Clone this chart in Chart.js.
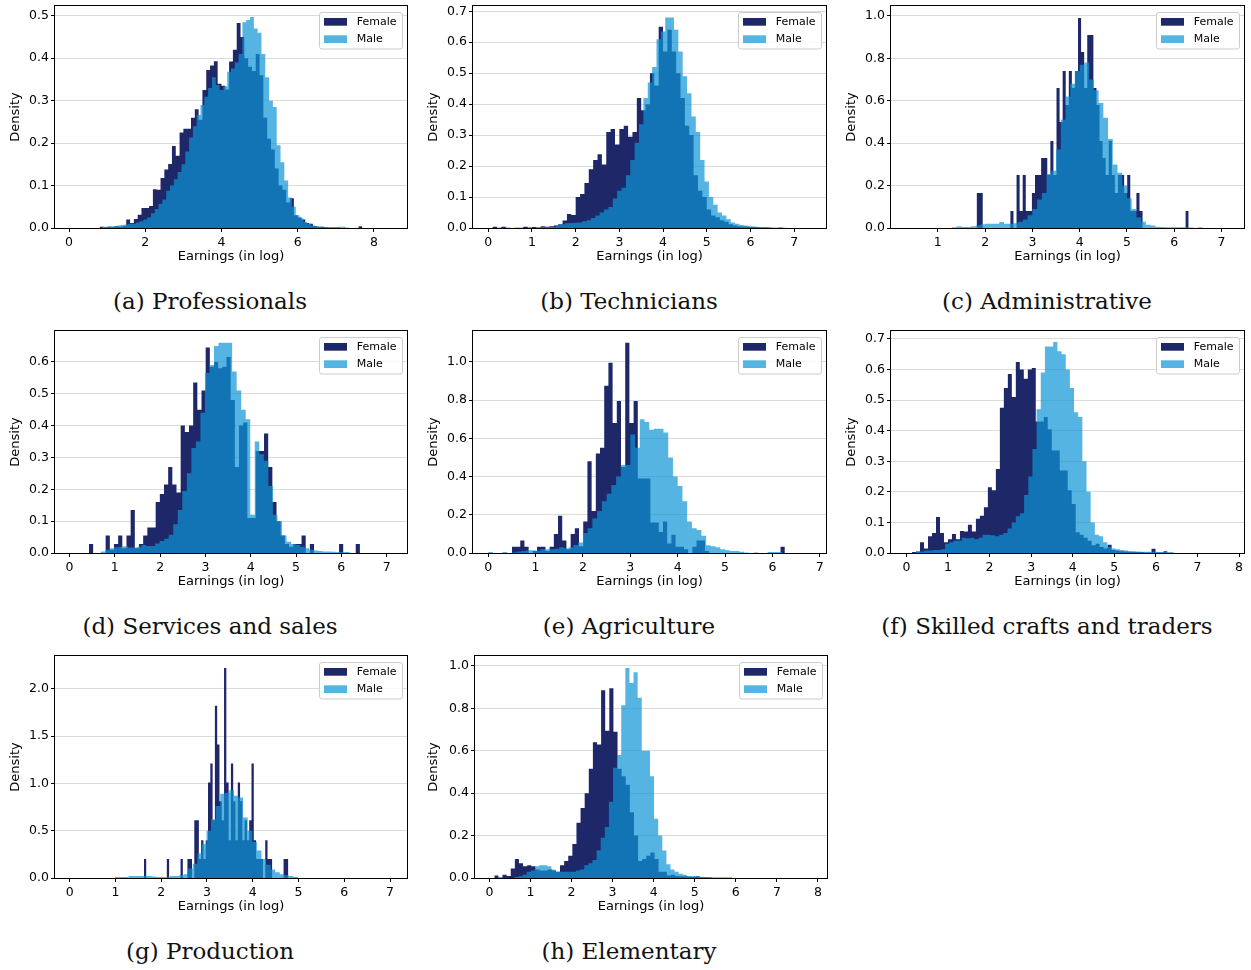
<!DOCTYPE html>
<html>
<head>
<meta charset="utf-8">
<title>Earnings by occupation and gender</title>
<script src="https://cdn.jsdelivr.net/npm/chart.js@4.4.0/dist/chart.umd.min.js"></script>
<style>
  body { margin: 0; background: #fff; }
  #page { position: relative; width: 1251px; height: 970px; overflow: hidden; }
  canvas { position: absolute; }
  .caption { position: absolute; width: 400px; text-align: center; font-family: "DejaVu Serif", serif; font-size: 23px; line-height: 24px; color: #111; }
</style>
</head>
<body>
<div id="page">
  <canvas id="professionals" width="415" height="270" style="left:0px;top:0px"></canvas>
  <canvas id="technicians" width="415" height="270" style="left:418px;top:0px"></canvas>
  <canvas id="administrative" width="415" height="270" style="left:836px;top:0px"></canvas>
  <canvas id="services" width="415" height="270" style="left:0px;top:325px"></canvas>
  <canvas id="agriculture" width="415" height="270" style="left:418px;top:325px"></canvas>
  <canvas id="crafts" width="415" height="270" style="left:836px;top:325px"></canvas>
  <canvas id="production" width="415" height="270" style="left:0px;top:650px"></canvas>
  <canvas id="elementary" width="415" height="270" style="left:418px;top:650px"></canvas>

  <div class="caption" style="left:10px;top:289px">(a) Professionals</div>
  <div class="caption" style="left:429px;top:289px">(b) Technicians</div>
  <div class="caption" style="left:847px;top:289px">(c) Administrative</div>
  <div class="caption" style="left:10px;top:614px">(d) Services and sales</div>
  <div class="caption" style="left:429px;top:614px">(e) Agriculture</div>
  <div class="caption" style="left:847px;top:614px">(f) Skilled crafts and traders</div>
  <div class="caption" style="left:10px;top:939px">(g) Production</div>
  <div class="caption" style="left:429px;top:939px">(h) Elementary</div>
</div>

<script>
// histogram densities, one value per bin; bins given as [first edge, bin width]

// (a) professionals
const profFemaleBins = [0.8, 0.1];
const profFemale = [0.003, 0.002, 0.003, 0.002, 0.004, 0.003, 0.005, 0.020, 0.012, 0.021,
  0.031, 0.047, 0.047, 0.052, 0.091, 0.090, 0.118, 0.138, 0.151, 0.193,
  0.170, 0.225, 0.234, 0.234, 0.260, 0.280, 0.255, 0.325, 0.372, 0.383,
  0.393, 0.340, 0.335, 0.326, 0.392, 0.420, 0.483, 0.450, 0.400, 0.380,
  0.370, 0.410, 0.360, 0.260, 0.210, 0.185, 0.140, 0.100, 0.090, 0.060,
  0.070, 0.030, 0.025, 0.020, 0.012, 0.010, 0.005, 0.003, 0.003, 0.002,
  0.001, 0.001, 0.001, 0, 0, 0, 0, 0, 0.004];
const profMaleBins = [0.85, 0.1];
const profMale = [0.003, 0.003, 0.004, 0.005, 0.006, 0.007, 0.008, 0.010, 0.010, 0.013,
  0.016, 0.020, 0.025, 0.035, 0.045, 0.057, 0.067, 0.088, 0.100, 0.115,
  0.132, 0.150, 0.180, 0.213, 0.240, 0.266, 0.290, 0.309, 0.330, 0.355,
  0.337, 0.325, 0.334, 0.368, 0.376, 0.390, 0.410, 0.485, 0.490, 0.497,
  0.470, 0.460, 0.410, 0.355, 0.300, 0.285, 0.195, 0.155, 0.112, 0.072,
  0.050, 0.030, 0.023, 0.014, 0.010, 0.006, 0.004, 0.003, 0.002, 0.002,
  0.001, 0.001, 0.003, 0.003, 0.001];
const profXTicks = [0, 2, 4, 6, 8];
const profYTicks = [0, 0.1, 0.2, 0.3, 0.4, 0.5];

// (b) technicians
const techFemaleBins = [0.0, 0.1];
const techFemale = [0, 0.004, 0.001, 0.004, 0.001, 0, 0.001, 0.001, 0.004, 0.002,
  0.003, 0.002, 0.006, 0.004, 0.006, 0.008, 0.012, 0.024, 0.045, 0.042,
  0.100, 0.110, 0.145, 0.190, 0.220, 0.238, 0.205, 0.310, 0.320, 0.270,
  0.320, 0.330, 0.295, 0.310, 0.420, 0.380, 0.400, 0.500, 0.460, 0.650,
  0.570, 0.640, 0.570, 0.500, 0.420, 0.330, 0.300, 0.170, 0.120, 0.100,
  0.060, 0.040, 0.035, 0.025, 0.020, 0.012, 0.008, 0.006, 0.005, 0.004,
  0.003, 0.003, 0.002, 0.002, 0.001];
const techMaleBins = [1.15, 0.1];
const techMale = [0.003, 0.003, 0.003, 0.003, 0.010, 0.012, 0.015, 0.016, 0.017, 0.018,
  0.022, 0.025, 0.032, 0.040, 0.050, 0.060, 0.068, 0.095, 0.120, 0.130,
  0.170, 0.220, 0.275, 0.335, 0.420, 0.470, 0.520, 0.610, 0.635, 0.680,
  0.680, 0.640, 0.570, 0.490, 0.435, 0.360, 0.310, 0.220, 0.150, 0.100,
  0.075, 0.050, 0.040, 0.028, 0.018, 0.014, 0.010, 0.008, 0.006, 0.005,
  0.003, 0.003, 0.003, 0.002, 0.002, 0.003, 0.001];
const techXTicks = [0, 1, 2, 3, 4, 5, 6, 7];
const techYTicks = [0, 0.1, 0.2, 0.3, 0.4, 0.5, 0.6, 0.7];

// (c) administrative
const adminFemaleBins = [1.82, 0.065];
const adminFemale = [0.165, 0.165, 0, 0, 0, 0, 0, 0, 0, 0,
  0, 0.08, 0, 0.25, 0.08, 0.25, 0.08, 0.08, 0.165, 0.25,
  0.25, 0.33, 0.33, 0.25, 0.41, 0.25, 0.66, 0.50, 0.74, 0.58,
  0.74, 0.66, 0.74, 0.99, 0.83, 0.66, 0.91, 0.91, 0.66, 0.58,
  0.41, 0.33, 0.25, 0.41, 0.25, 0.165, 0.25, 0.25, 0.165, 0.25,
  0.08, 0.08, 0.165, 0.08, 0, 0, 0, 0, 0, 0,
  0, 0, 0, 0, 0, 0, 0, 0, 0.08];
const adminMaleBins = [1.3, 0.1];
const adminMale = [0.004, 0.008, 0.005, 0.005, 0.008, 0.012, 0.018, 0.020, 0.020, 0.020,
  0.028, 0.020, 0.020, 0.022, 0.030, 0.040, 0.060, 0.090, 0.135, 0.165,
  0.255, 0.270, 0.370, 0.510, 0.620, 0.680, 0.740, 0.770, 0.780, 0.700,
  0.650, 0.590, 0.520, 0.420, 0.300, 0.260, 0.200, 0.140, 0.090, 0.050,
  0.030, 0.015, 0.012, 0.006, 0.005, 0.004, 0.004, 0.004, 0.004, 0.004,
  0.002, 0, 0.004];
const adminXTicks = [1, 2, 3, 4, 5, 6, 7];
const adminYTicks = [0, 0.2, 0.4, 0.6, 0.8, 1.0];

// (d) services and sales
const servFemaleBins = [0.43, 0.092];
const servFemale = [0.028, 0, 0, 0, 0.055, 0.010, 0.028, 0.055, 0.015, 0.055,
  0.135, 0.015, 0.028, 0.055, 0.080, 0.080, 0.160, 0.185, 0.215, 0.270,
  0.215, 0.190, 0.400, 0.380, 0.400, 0.535, 0.450, 0.510, 0.645, 0.585,
  0.600, 0.580, 0.585, 0.615, 0.480, 0.270, 0.400, 0.410, 0.110, 0.110,
  0.320, 0.320, 0.375, 0.270, 0.160, 0.100, 0.055, 0.028, 0.020, 0.028,
  0.028, 0.055, 0, 0.028, 0, 0, 0, 0, 0, 0,
  0.028, 0, 0, 0, 0.028];
const servMaleBins = [0.69, 0.1];
const servMale = [0.005, 0.010, 0.015, 0.018, 0.020, 0.021, 0.017, 0.017, 0.020, 0.025,
  0.022, 0.022, 0.030, 0.038, 0.045, 0.057, 0.090, 0.135, 0.195, 0.250,
  0.330, 0.350, 0.440, 0.565, 0.590, 0.650, 0.660, 0.660, 0.660, 0.570,
  0.510, 0.450, 0.420, 0.120, 0.350, 0.310, 0.290, 0.210, 0.120, 0.100,
  0.055, 0.035, 0.028, 0.025, 0.020, 0.015, 0.010, 0.008, 0.006, 0.005,
  0.005, 0.004, 0.003, 0.003, 0.003];
const servXTicks = [0, 1, 2, 3, 4, 5, 6, 7];
const servYTicks = [0, 0.1, 0.2, 0.3, 0.4, 0.5, 0.6];

// (e) agriculture
const agriFemaleBins = [0.5, 0.0886];
const agriFemale = [0.033, 0.033, 0.065, 0.033, 0, 0.010, 0.033, 0.033, 0.010, 0.033,
  0.100, 0.195, 0.065, 0.020, 0.100, 0.130, 0.035, 0.165, 0.480, 0.220,
  0.520, 0.550, 0.875, 0.995, 0.680, 0.795, 0.450, 1.100, 0.680, 0.795,
  0.390, 0.390, 0.390, 0.160, 0.160, 0.110, 0.165, 0.050, 0.095, 0.033,
  0.033, 0.020, 0, 0.033, 0.065, 0.065, 0.010, 0, 0, 0,
  0, 0, 0, 0, 0, 0, 0, 0, 0, 0,
  0, 0, 0, 0, 0.033, 0];
const agriMaleBins = [0.0, 0.1];
const agriMale = [0.005, 0, 0, 0.005, 0, 0.003, 0.008, 0.010, 0.015, 0.015,
  0.012, 0.020, 0.020, 0.020, 0.022, 0.030, 0.025, 0.030, 0.042, 0.055,
  0.105, 0.130, 0.180, 0.220, 0.270, 0.310, 0.355, 0.400, 0.460, 0.460,
  0.620, 0.550, 0.700, 0.685, 0.645, 0.650, 0.650, 0.630, 0.500, 0.400,
  0.350, 0.270, 0.165, 0.130, 0.120, 0.090, 0.040, 0.035, 0.030, 0.020,
  0.015, 0.010, 0.010, 0.006, 0.003, 0, 0.002, 0, 0, 0.005,
  0.005, 0.005];
const agriXTicks = [0, 1, 2, 3, 4, 5, 6, 7];
const agriYTicks = [0, 0.2, 0.4, 0.6, 0.8, 1.0];

// (f) skilled crafts and traders
const craftFemaleBins = [0.136, 0.096];
const craftFemale = [0.003, 0.005, 0.035, 0.015, 0.055, 0.065, 0.118, 0.065, 0.035, 0.045,
  0.062, 0.045, 0.072, 0.070, 0.092, 0.070, 0.112, 0.122, 0.150, 0.215,
  0.205, 0.275, 0.475, 0.540, 0.585, 0.510, 0.625, 0.600, 0.570, 0.600,
  0.605, 0.430, 0.430, 0.445, 0.405, 0.335, 0.335, 0.270, 0.270, 0.205,
  0.160, 0.068, 0.060, 0.050, 0.040, 0.025, 0.030, 0.020, 0.015, 0.027,
  0.010, 0.008, 0.006, 0.005, 0.004, 0.004, 0.003, 0.003, 0.002, 0.002,
  0.014, 0.002, 0.002, 0.006];
const craftMaleBins = [0.232, 0.1];
const craftMale = [0.005, 0.005, 0.008, 0.008, 0.010, 0.010, 0.012, 0.030, 0.035, 0.040,
  0.040, 0.050, 0.048, 0.050, 0.045, 0.050, 0.060, 0.060, 0.058, 0.055,
  0.060, 0.065, 0.080, 0.100, 0.120, 0.130, 0.190, 0.250, 0.340, 0.470,
  0.590, 0.675, 0.675, 0.690, 0.660, 0.650, 0.600, 0.540, 0.460, 0.445,
  0.300, 0.200, 0.100, 0.060, 0.055, 0.035, 0.020, 0.015, 0.012, 0.010,
  0.008, 0.006, 0.005, 0.005, 0.004, 0.004, 0.004, 0.004, 0.003, 0.003,
  0.003, 0.003];
const craftXTicks = [0, 1, 2, 3, 4, 5, 6, 7, 8];
const craftYTicks = [0, 0.1, 0.2, 0.3, 0.4, 0.5, 0.6, 0.7];

// (g) production
const prodFemaleBins = [1.623, 0.05];
const prodFemale = [0.2, 0, 0, 0, 0, 0, 0, 0, 0, 0,
  0.2, 0, 0, 0, 0, 0, 0.2, 0, 0, 0.2,
  0.2, 0, 0.61, 0.61, 0.2, 0.4, 0.2, 0.4, 1.01, 1.21,
  0.61, 1.82, 1.41, 0.81, 0.61, 2.22, 1.01, 0.4, 1.21, 0.81,
  0.4, 1.01, 0.81, 0.4, 0.61, 0.4, 0.61, 1.21, 0.4, 0.2,
  0.2, 0.2, 0, 0.4, 0.2, 0.2, 0, 0, 0, 0,
  0, 0.2, 0.2, 0];
const prodMaleBins = [0.99, 0.1];
const prodMale = [0.010, 0.010, 0.010, 0.020, 0.020, 0.020, 0.020, 0.020, 0.015, 0.010,
  0.010, 0.010, 0.020, 0.020, 0.030, 0.040, 0.100, 0.150, 0.260, 0.360,
  0.500, 0.620, 0.760, 0.890, 0.900, 0.930, 0.870, 0.850, 0.640, 0.500,
  0.380, 0.290, 0.200, 0.140, 0.090, 0.060, 0.040, 0.030, 0.020, 0.010];
const prodXTicks = [0, 1, 2, 3, 4, 5, 6, 7];
const prodYTicks = [0, 0.5, 1.0, 1.5, 2.0];

// (h) elementary
const elemFemaleBins = [0.12, 0.1];
const elemFemale = [0.012, 0.002, 0.015, 0.010, 0.045, 0.090, 0.070, 0.055, 0.060, 0.055,
  0.040, 0.035, 0.035, 0.040, 0.035, 0.030, 0.060, 0.080, 0.105, 0.160,
  0.260, 0.330, 0.400, 0.515, 0.640, 0.630, 0.885, 0.695, 0.895, 0.690,
  0.515, 0.480, 0.440, 0.310, 0.200, 0.080, 0.090, 0.105, 0.120, 0.090,
  0.030, 0.030, 0.012, 0.015, 0.010, 0.008, 0.008, 0.006, 0.006, 0.008,
  0.003, 0.003, 0.002];
const elemMaleBins = [0.61, 0.1];
const elemMale = [0.005, 0.008, 0.015, 0.030, 0.035, 0.055, 0.060, 0.060, 0.055, 0.040,
  0.030, 0.030, 0.030, 0.030, 0.030, 0.035, 0.040, 0.060, 0.070, 0.085,
  0.130, 0.190, 0.240, 0.360, 0.520, 0.580, 0.815, 0.990, 0.920, 0.970,
  0.850, 0.600, 0.600, 0.480, 0.280, 0.200, 0.130, 0.065, 0.040, 0.030,
  0.020, 0.015, 0.010, 0.008, 0.008, 0.005, 0.005, 0.004, 0.004, 0.004,
  0.004, 0.004, 0.004];
const elemXTicks = [0, 1, 2, 3, 4, 5, 6, 7, 8];
const elemYTicks = [0, 0.2, 0.4, 0.6, 0.8, 1.0];

const FEMALE_COLOR = '#1e2869';
const MALE_COLOR = 'rgba(14, 148, 214, 0.7)';
const axisFont = { family: 'DejaVu Sans', size: 12.5 };
const titleFont = { family: 'DejaVu Sans', size: 13 };

// bins -> points for a stepped, filled line (each point opens a bin)
function binPoints(bins, heights) {
  const [start, width] = bins;
  const pts = heights.map((h, i) => ({ x: start + i * width, y: h }));
  pts.push({ x: start + heights.length * width, y: 0 });
  return pts;
}

// black box around the plot area
const frame = {
  id: 'frame',
  afterDraw(chart) {
    const { ctx, chartArea: a } = chart;
    ctx.save();
    ctx.strokeStyle = '#000';
    ctx.lineWidth = 1;
    ctx.strokeRect(a.left - 0.5, a.top - 0.5, a.right - a.left + 1, a.bottom - a.top + 1);
    ctx.restore();
  }
};

// legend box in the upper right corner of the plot
const legendBox = {
  id: 'legendBox',
  afterDraw(chart) {
    const { ctx, chartArea: a } = chart;
    const x0 = a.right - 88, y0 = a.top + 6;
    ctx.save();
    ctx.beginPath();
    ctx.roundRect(x0 + 0.5, y0 + 0.5, 83, 36.5, 2.5);
    ctx.fillStyle = 'rgba(255,255,255,0.8)';
    ctx.fill();
    ctx.strokeStyle = '#cccccc';
    ctx.lineWidth = 1;
    ctx.stroke();
    ctx.font = '11px "DejaVu Sans"';
    ctx.textBaseline = 'middle';
    chart.data.datasets.forEach((ds, i) => {
      const y = y0 + 6 + i * 17.3;
      ctx.fillStyle = ds.backgroundColor;
      ctx.fillRect(x0 + 5, y, 23, 7.7);
      ctx.fillStyle = '#000';
      ctx.fillText(ds.label, x0 + 37.7, y + 4);
    });
    ctx.restore();
  }
};

function histogram(id, female, male, xMin, xMax, yMax, xTicks, yTicks, digits, plotLeft, plotRight) {
  const canvas = document.getElementById(id);
  return new Chart(canvas, {
    type: 'line',
    data: {
      datasets: [
        { label: 'Female', data: female, order: 1, backgroundColor: FEMALE_COLOR,
          borderColor: 'rgba(0,0,0,0)', borderWidth: 0, pointRadius: 0, fill: 'origin', stepped: true },
        { label: 'Male', data: male, order: 0, backgroundColor: MALE_COLOR,
          borderColor: 'rgba(0,0,0,0)', borderWidth: 0, pointRadius: 0, fill: 'origin', stepped: true }
      ]
    },
    options: {
      responsive: false,
      animation: false,
      events: [],
      layout: { padding: { left: 0, top: 6, right: canvas.width - plotRight, bottom: 0 } },
      plugins: { legend: { display: false }, tooltip: { enabled: false } },
      scales: {
        x: {
          type: 'linear', min: xMin, max: xMax,
          afterBuildTicks: s => { s.ticks = xTicks.map(v => ({ value: v })); },
          afterFit: s => {
            s.height = canvas.height - 228;
            s.paddingLeft = 0;
            s.paddingRight = 0;
          },
          border: { display: false },
          grid: { drawOnChartArea: false, tickLength: 4, tickColor: '#000', tickWidth: 1 },
          ticks: { font: axisFont, color: '#000', padding: 3, maxRotation: 0, autoSkip: false,
                   callback: v => String(v) },
          title: { display: true, text: 'Earnings (in log)', font: titleFont, color: '#000',
                   padding: { top: 0, bottom: 5.5 } }
        },
        y: {
          type: 'linear', min: 0, max: yMax, z: 1,
          afterBuildTicks: s => { s.ticks = yTicks.map(v => ({ value: v })); },
          afterFit: s => {
            s.width = plotLeft;
            s.paddingTop = 0;
            s.paddingBottom = 0;
          },
          border: { display: false },
          grid: { color: 'rgba(176,176,176,0.45)', lineWidth: 1, tickLength: 4, tickColor: '#000', tickWidth: 1 },
          ticks: { font: axisFont, color: '#000', padding: 2, autoSkip: false,
                   callback: v => v.toFixed(digits) },
          title: { display: true, text: 'Density', font: titleFont, color: '#000',
                   padding: { top: 7.5, bottom: 0 } }
        }
      }
    },
    plugins: [frame, legendBox]
  });
}

histogram('professionals', binPoints(profFemaleBins, profFemale), binPoints(profMaleBins, profMale),
  -0.37, 8.87, 0.523, profXTicks, profYTicks, 1, 55, 407);
histogram('technicians', binPoints(techFemaleBins, techFemale), binPoints(techMaleBins, techMale),
  -0.35, 7.73, 0.717, techXTicks, techYTicks, 1, 55, 408);
histogram('administrative', binPoints(adminFemaleBins, adminFemale), binPoints(adminMaleBins, adminMale),
  0.01, 7.475, 1.047, adminXTicks, adminYTicks, 1, 55, 408);
histogram('services', binPoints(servFemaleBins, servFemale), binPoints(servMaleBins, servMale),
  -0.32, 7.45, 0.697, servXTicks, servYTicks, 1, 55, 407);
histogram('agriculture', binPoints(agriFemaleBins, agriFemale), binPoints(agriMaleBins, agriMale),
  -0.32, 7.13, 1.161, agriXTicks, agriYTicks, 1, 55, 408);
histogram('crafts', binPoints(craftFemaleBins, craftFemale), binPoints(craftMaleBins, craftMale),
  -0.37, 8.12, 0.726, craftXTicks, craftYTicks, 1, 55, 408);
histogram('production', binPoints(prodFemaleBins, prodFemale), binPoints(prodMaleBins, prodMale),
  -0.32, 7.37, 2.346, prodXTicks, prodYTicks, 1, 55, 407);
histogram('elementary', binPoints(elemFemaleBins, elemFemale), binPoints(elemMaleBins, elemMale),
  -0.35, 8.22, 1.047, elemXTicks, elemYTicks, 1, 57, 409);
</script>
</body>
</html>
